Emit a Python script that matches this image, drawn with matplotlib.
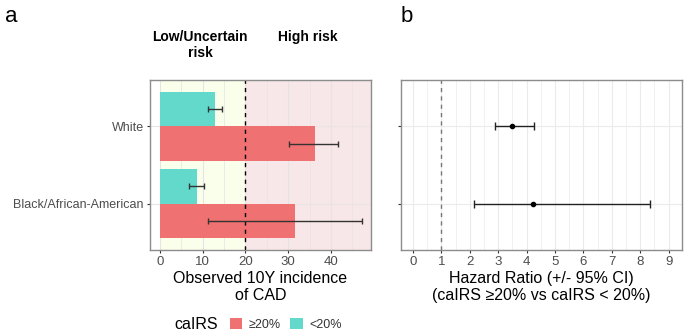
import numpy as np
import matplotlib
matplotlib.use("Agg")
import matplotlib.pyplot as plt
from matplotlib.patches import Patch
from matplotlib.offsetbox import HPacker

plt.rcParams['font.family'] = ['Liberation Sans', 'DejaVu Sans']

groups = ["White", "Black/African-American"]
# observed 10Y incidence of CAD (%)
high_val = [36.3, 31.5]
high_lo = [30.3, 11.2]
high_hi = [41.7, 47.2]
low_val = [12.9, 8.6]
low_lo = [11.3, 6.8]
low_hi = [14.4, 10.3]
# hazard ratios
hr = [3.5, 4.21]
hr_lo = [2.88, 2.14]
hr_hi = [4.26, 8.36]

red = "#F07171"
teal = "#63D9CB"
grid_c = "#EBEBEB"
tick_c = "#4D4D4D"

fig = plt.figure(figsize=(6.85, 3.35), dpi=100)
ax1 = fig.add_axes([0.219, 0.2537, 0.3226, 0.5075])
ax2 = fig.add_axes([0.585, 0.2537, 0.4102, 0.5075])

ypos = np.arange(len(groups)) + 1.0
w = 0.45

# panel a
ax1.axvspan(0, 20, color="#FAFFEC", zorder=0, lw=0)
ax1.axvspan(20, 60, color="#F8E7E8", zorder=0, lw=0)
for v in np.arange(0, 50, 5):
    ax1.axvline(v, color="#E8E2E2", lw=0.8 if v % 10 == 0 else 0.5, zorder=0.5)
for y in ypos:
    ax1.axhline(y, color="#EAE4E4", lw=0.8, zorder=0.5)
ax1.barh(ypos - w / 2, low_val, height=w, color=teal, zorder=2)
ax1.barh(ypos + w / 2, high_val, height=w, color=red, zorder=2)
ax1.errorbar(low_val, ypos - w / 2,
             xerr=[np.array(low_val) - low_lo, np.array(low_hi) - low_val],
             fmt="none", ecolor="#333333", elinewidth=1, capsize=2.5, zorder=3)
ax1.errorbar(high_val, ypos + w / 2,
             xerr=[np.array(high_val) - high_lo, np.array(high_hi) - high_val],
             fmt="none", ecolor="#333333", elinewidth=1, capsize=2.5, zorder=3)
ax1.axvline(20, color="black", ls=(0, (3, 3)), lw=1, zorder=2.5)
ax1.set_xlim(-2.35, 49.4)
ax1.set_ylim(2.6, 0.4)
ax1.set_yticks(ypos)
ax1.set_yticklabels(groups)
ax1.set_xticks([0, 10, 20, 30, 40])
ax1.set_xlabel("Observed 10Y incidence\nof CAD", fontsize=11.5, labelpad=2, linespacing=1.15)
fig.text(200 / 685, 1 - 30 / 335, "Low/Uncertain\nrisk", ha="center", va="top",
         fontsize=10, fontweight="bold", linespacing=1.15)
fig.text(308 / 685, 1 - 30 / 335, "High risk", ha="center", va="top",
         fontsize=10, fontweight="bold")
fig.text(0.007, 0.935, "a", fontsize=16)

# panel b
for v in np.arange(0, 9.6, 0.5):
    ax2.axvline(v, color=grid_c, lw=0.8 if v % 1 == 0 else 0.5, zorder=0)
for y in ypos:
    ax2.axhline(y, color=grid_c, lw=0.8, zorder=0)
ax2.axvline(1, color="#777777", ls=(0, (3, 3)), lw=1, zorder=1)
ax2.errorbar(hr, ypos, xerr=[np.array(hr) - hr_lo, np.array(hr_hi) - hr],
             fmt="o", color="black", ms=3, ecolor="#222222", elinewidth=1,
             capsize=3, zorder=3)
ax2.set_xlim(-0.43, 9.46)
ax2.set_ylim(2.6, 0.4)
ax2.set_yticks(ypos)
ax2.set_yticklabels([])
ax2.set_xticks(range(10))
ax2.set_xlabel("Hazard Ratio (+/- 95% CI)\n(caIRS \u226520% vs caIRS < 20%)",
               fontsize=11.5, labelpad=2, linespacing=1.15)
fig.text(0.585, 0.935, "b", fontsize=16)

for ax in (ax1, ax2):
    for s in ax.spines.values():
        s.set_color("#8C8C8C")
        s.set_linewidth(1)
    ax.tick_params(axis="both", colors="#333333", labelcolor=tick_c,
                   labelsize=9, length=2.5, width=0.8, pad=2)
ax1.tick_params(axis="x", labelsize=9.5)
ax2.tick_params(axis="x", labelsize=9.5)

handles = [Patch(facecolor=red, edgecolor="none"), Patch(facecolor=teal, edgecolor="none")]
leg = fig.legend(handles, ["\u226520%", "<20%"], loc="lower center",
                 bbox_to_anchor=(0.377, -0.025), ncol=2, frameon=False,
                 title="caIRS", fontsize=9, title_fontsize=11.5,
                 handlelength=1.0, handleheight=1.0, handletextpad=0.5,
                 columnspacing=0.8)
# put the title to the left of the keys
box = leg._legend_box
box._children = [HPacker(children=[box._children[0], box._children[1]], pad=0, sep=8, align="center")]
for t in leg.get_texts():
    t.set_color("#333333")

fig.savefig("out.png", dpi=100)
